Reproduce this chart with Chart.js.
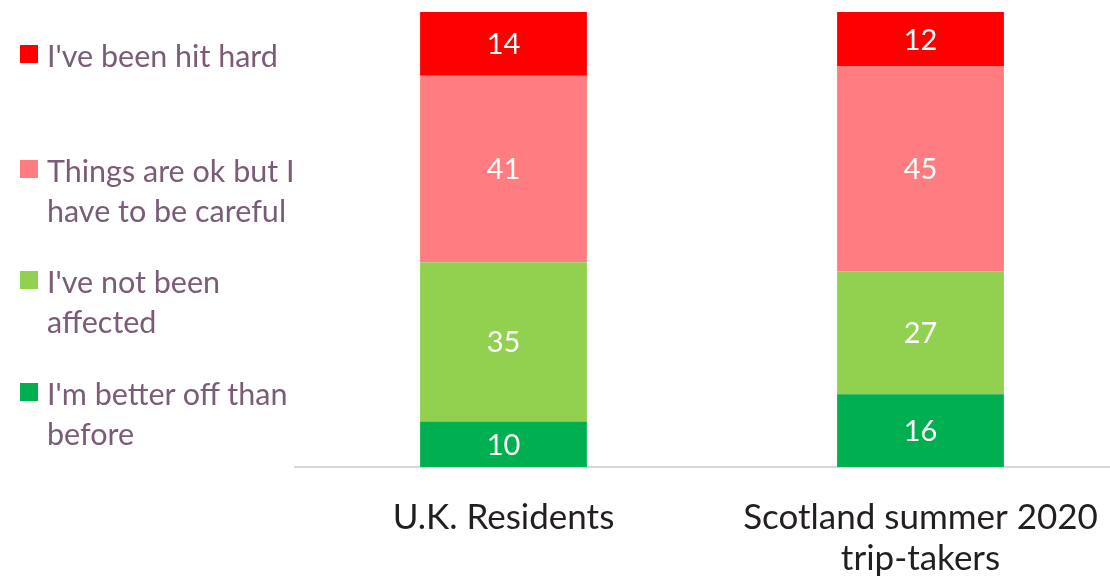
<!DOCTYPE html>
<html>
<head>
<meta charset="utf-8">
<script src="https://cdn.jsdelivr.net/npm/chart.js@4/dist/chart.umd.min.js"></script>
<style>
  body { margin: 0; background: #fff; overflow: hidden; }
  #wrap { position: relative; width: 1110px; height: 580px; overflow: hidden; }
  #legend { position: absolute; left: 0; top: 0; font-family: Lato, sans-serif; font-size: 30.5px; color: #7a5c76; }
  .item { position: absolute; left: 20px; width: 280px; }
  .box { position: absolute; left: 0; top: 10px; width: 18px; height: 18px; }
  .txt { position: absolute; left: 27px; line-height: 40px; white-space: nowrap; }
</style>
</head>
<body>
<div id="wrap">
  <canvas id="chart" width="1129" height="609"></canvas>
  <div id="legend"></div>
</div>
<script>
// categories and series (percent)
const categories = [['U.K. Residents'], ['Scotland summer 2020', 'trip-takers']];
const betterOff = [10, 16];
const notAffected = [35, 27];
const careful = [41, 45];
const hitHard = [14, 12];

const seriesNames = ["I'm better off than before", "I've not been affected", 'Things are ok but I have to be careful', "I've been hit hard"];
const legendLines = [["I've been hit hard"], ['Things are ok but I', 'have to be careful'], ["I've not been", 'affected'], ["I'm better off than", 'before']];
const colors = ['#00B050', '#92D050', '#FF7C80', '#FF0000'];

// draw the value in the middle of each segment
const barLabels = {
    id: 'barLabels',
    afterDatasetsDraw(chart) {
        const ctx = chart.ctx;
        ctx.save();
        ctx.fillStyle = '#ffffff';
        ctx.font = '29px Lato, sans-serif';
        ctx.textAlign = 'center';
        ctx.textBaseline = 'middle';
        chart.data.datasets.forEach((ds, i) => {
            chart.getDatasetMeta(i).data.forEach((bar, j) => {
                const p = bar.getProps(['x', 'y', 'base'], true);
                ctx.fillText(ds.data[j], p.x, (p.y + p.base) / 2 + 1);
            });
        });
        ctx.restore();
    }
};

const ctx = document.getElementById('chart').getContext('2d');
new Chart(ctx, {
    type: 'bar',
    data: {
        labels: categories,
        datasets: [betterOff, notAffected, careful, hitHard].map((d, i) => ({
            label: seriesNames[i],
            data: d,
            backgroundColor: colors[i],
            barPercentage: 0.4,
            categoryPercentage: 1
        }))
    },
    options: {
        responsive: false,
        animation: false,
        layout: { padding: { left: 295, top: 12, right: 0, bottom: 0 } },
        plugins: { legend: { display: false }, tooltip: { enabled: false } },
        scales: {
            x: {
                stacked: true,
                grid: { display: false, drawTicks: false },
                border: { display: true, color: '#dcd4da', width: 2 },
                ticks: { color: '#231f20', padding: 30, font: { family: 'Lato, sans-serif', size: 35, lineHeight: 1.17 } }
            },
            y: {
                stacked: true,
                display: false,
                min: 0,
                max: 100
            }
        }
    },
    plugins: [barLabels]
});

// legend on the left, built from the series colours
const tops = [35, 150, 261, 373];
const legend = document.getElementById('legend');
legendLines.forEach((lines, i) => {
    const item = document.createElement('div');
    item.className = 'item';
    item.style.top = tops[i] + 'px';
    item.innerHTML = '<div class="box" style="background:' + colors[3 - i] + '"></div>' +
        '<div class="txt">' + lines.join('<br>') + '</div>';
    legend.appendChild(item);
});
</script>
</body>
</html>
